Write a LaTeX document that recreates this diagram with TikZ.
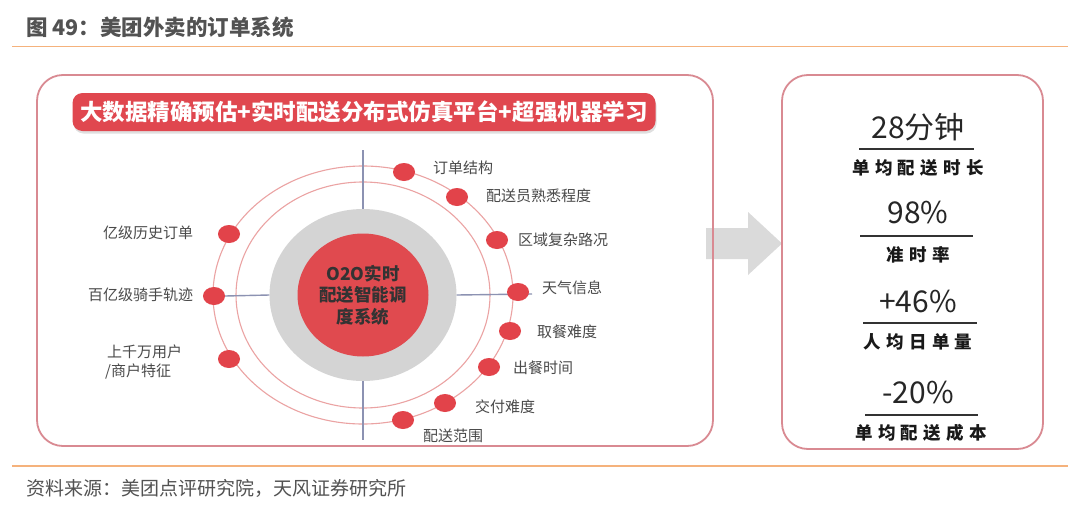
\documentclass[tikz,border=0pt]{standalone}
\usepackage{fontspec}
\setmainfont{Noto Sans CJK SC}
\newfontfamily\spacedfont[LetterSpace=30]{Noto Sans CJK SC}
\usetikzlibrary{shapes.geometric,shadows}
\definecolor{boxred}{HTML}{D98A92}
\definecolor{bannerred}{HTML}{E0474F}
\definecolor{dotred}{HTML}{E2434A}
\definecolor{corered}{HTML}{E04A4F}
\definecolor{coregray}{HTML}{D4D4D4}
\definecolor{ringred}{HTML}{EBA3A3}
\definecolor{axisblue}{HTML}{8C92B2}
\definecolor{rule}{HTML}{F5B27C}
\definecolor{txtgray}{HTML}{4A4A4A}
\definecolor{arrowgray}{HTML}{DADADA}
\begin{document}
\begin{tikzpicture}[x=1pt,y=-1pt,
  panel/.style={draw=boxred,line width=1.8pt,rounded corners=26pt},
  orangerule/.style={draw=rule,line width=1.2pt},
  dot/.style={ellipse,fill=dotred,minimum width=22pt,minimum height=18pt,inner sep=0pt},
  lbl/.style={anchor=west,inner sep=0pt,text=txtgray,font=\fontsize{15}{18}\selectfont},
  lbl2/.style={anchor=west,inner sep=0pt,text=txtgray,align=left,font=\fontsize{15}{18}\selectfont},
  ring/.style={draw=ringred,line width=1.1pt},
  axis/.style={draw=axisblue,line width=1.4pt},
  num/.style={inner sep=0pt,text=black!85,font=\fontsize{30}{34}\selectfont},
  captxt/.style={inner sep=0pt,text=black!90,font=\spacedfont\bfseries\fontsize{17.5}{20}\selectfont},
  sepline/.style={draw=black!80,line width=1.5pt}
]
\useasboundingbox (0,0) rectangle (1080,509);
\fill[white] (0,0) rectangle (1080,509);

% title and rules
\node[anchor=west,inner sep=0pt,text=black!68,font=\bfseries\fontsize{21.5}{25}\selectfont] (title) at (26,27) {图 49：美团外卖的订单系统};
\draw[orangerule] (12,46.5) -- (1068,46.5);
\draw[orangerule] (12,466) -- (1068,466);
\node[anchor=west,inner sep=0pt,text=black!68,font=\fontsize{19}{22}\selectfont] (source) at (26,488) {资料来源：美团点评研究院，天风证券研究所};

% arrow
\fill[arrowgray] (706,228) -- (748,228) -- (748,212) -- (782,243.5) -- (748,275) -- (748,259) -- (706,259) -- cycle;

% panels
\draw[panel] (37,75) rectangle (713,446);
\draw[panel] (782,75) rectangle (1043,449);

% banner
\node[fill=bannerred,rounded corners=10pt,minimum width=583pt,minimum height=38pt,inner sep=0pt,
  text=white,font=\bfseries\fontsize{22.5}{26}\selectfont,
  drop shadow={opacity=0.25,shadow xshift=1pt,shadow yshift=-2.5pt}] (banner) at (364,112)
  {大数据精确预估+实时配送分布式仿真平台+超强机器学习};

% rings
\draw[ring] (363,295) ellipse [x radius=150pt, y radius=129pt];
\draw[ring] (363,295) ellipse [x radius=127pt, y radius=113pt];

% core
\node[ellipse,fill=coregray,minimum width=187pt,minimum height=172pt,inner sep=0pt] (gray) at (363,295) {};
\node[ellipse,fill=corered,minimum width=131pt,minimum height=123pt,inner sep=0pt,align=center,
  text=black!80,font=\bfseries\fontsize{17.5}{21.5}\selectfont] (core) at (363,295) {O2O实时\\配送智能调\\度系统};

% axes
\coordinate (vtop) at (363,150);
\coordinate (vbot) at (363,440);
\coordinate (hright) at (532,294);
\draw[axis] (vtop) -- (gray.north);
\draw[axis] (gray.south) -- (vbot);

% dots
\node[dot] (d1) at (404,172) {};
\node[dot] (d2) at (457,197) {};
\node[dot] (d3) at (497,240) {};
\node[dot] (d5) at (510,331) {};
\node[dot] (d6) at (489,367) {};
\node[dot] (d7) at (445,403) {};
\node[dot] (d8) at (403,420) {};
\node[dot] (l1) at (229,234) {};
\node[dot] (l2) at (214,296) {};
\node[dot] (l3) at (229,359) {};

\draw[axis] (l2.east) -- (gray.west);
\draw[axis] (gray.east) -- (hright);
\node[dot] (d4) at (518,292) {};

% labels
\node[lbl] (t1) at (433,168) {订单结构};
\node[lbl] (t2) at (486,196) {配送员熟悉程度};
\node[lbl] (t3) at (518,240) {区域复杂路况};
\node[lbl] (t4) at (542,288) {天气信息};
\node[lbl] (t5) at (537,332) {取餐难度};
\node[lbl] (t6) at (513,368) {出餐时间};
\node[lbl] (t7) at (475,407) {交付难度};
\node[lbl] (t8) at (423,436) {配送范围};
\node[lbl] (s1) at (103,233) {亿级历史订单};
\node[lbl] (s2) at (88,295) {百亿级骑手轨迹};
\node[lbl2] (s3) at (105,362) {\hspace*{2pt}上千万用户\\/商户特征};

% results
\node[num] (n1) at (918,127) {28分钟};
\draw[sepline] (859,149) -- (974,149);
\node[captxt] (c1) at (918,168) {单均配送时长};
\node[num] (n2) at (918,213) {98\%};
\draw[sepline] (860,236) -- (973,236);
\node[captxt] (c2) at (918,255) {准时率};
\node[num] (n3) at (918,302) {+46\%};
\draw[sepline] (863,323) -- (977,323);
\node[captxt] (c3) at (918,342) {人均日单量};
\node[num] (n4) at (918,392) {-20\%};
\draw[sepline] (865,415) -- (978,415);
\node[captxt] (c4) at (921,433) {单均配送成本};
\end{tikzpicture}
\end{document}
